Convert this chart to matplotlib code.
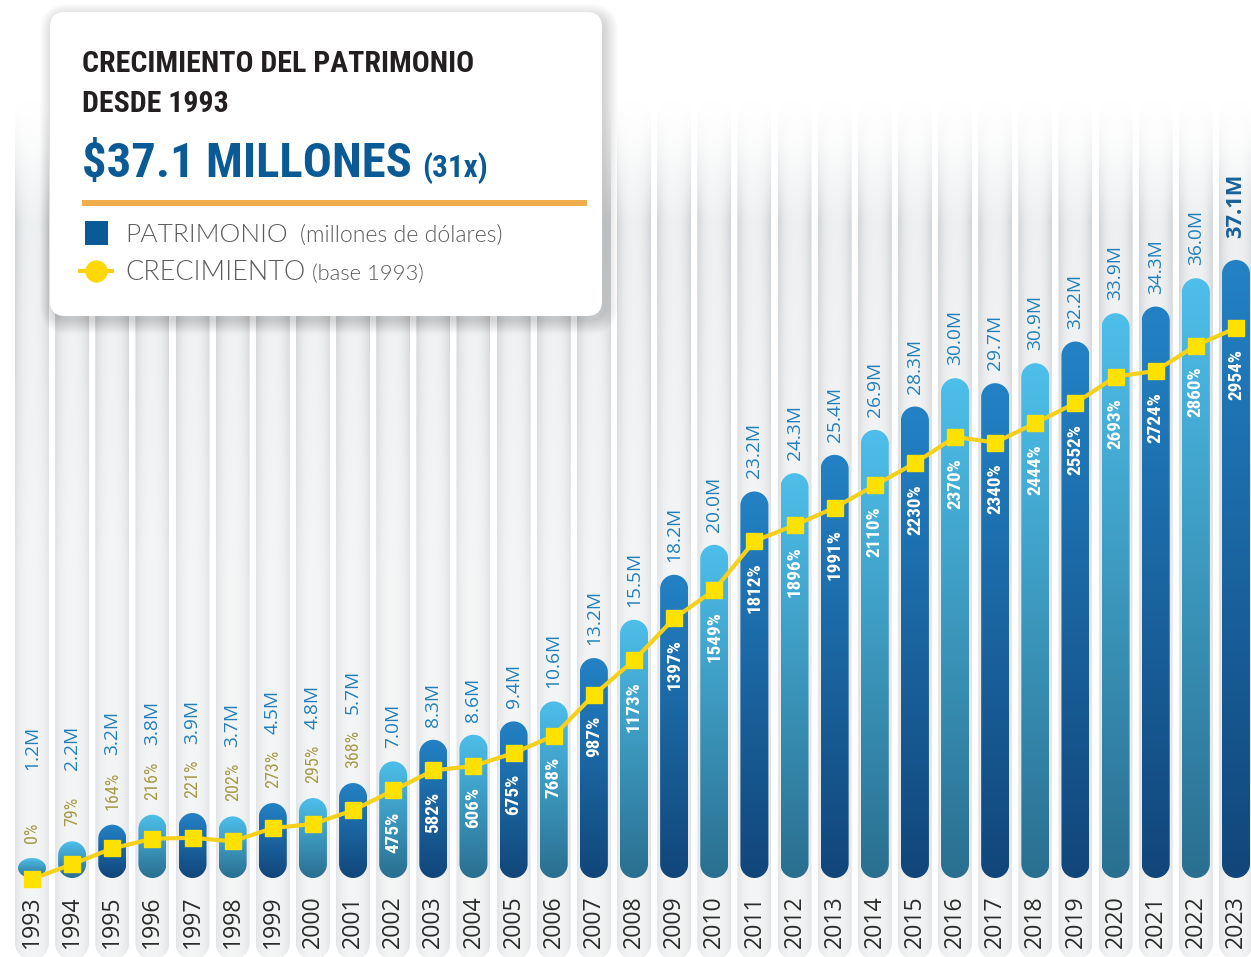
import os
import numpy as np
import matplotlib
matplotlib.use("Agg")
import matplotlib.pyplot as plt
from matplotlib.path import Path
from matplotlib.patches import PathPatch, FancyBboxPatch, Rectangle
from matplotlib.lines import Line2D
from matplotlib.colors import to_rgb
from matplotlib.font_manager import FontProperties, fontManager

# datos
years = [str(y) for y in range(1993, 2024)]
patrimonio = [1.2, 2.2, 3.2, 3.8, 3.9, 3.7, 4.5, 4.8, 5.7, 7.0, 8.3, 8.6, 9.4, 10.6,
              13.2, 15.5, 18.2, 20.0, 23.2, 24.3, 25.4, 26.9, 28.3, 30.0, 29.7,
              30.9, 32.2, 33.9, 34.3, 36.0, 37.1]
crecimiento = [0, 79, 164, 216, 221, 202, 273, 295, 368, 475, 582, 606, 675, 768,
               987, 1173, 1397, 1549, 1812, 1896, 1991, 2110, 2230, 2370, 2340,
               2444, 2552, 2693, 2724, 2860, 2954]
val_labels = [f"{v:.1f}M" for v in patrimonio]
pct_labels = [f"{p}%" for p in crecimiento]

W, H = 1251, 957
PX_X = 40.133      # px por unidad de x
X0 = 32            # px del primer año
PX_M = 16.66       # px por millón
Y0 = 878           # px (desde arriba) de la base de las barras
PX_P = 0.18653     # px por punto porcentual
P0 = 879           # px del 0%


def find_font(patterns, family, weight):
    files = sorted(f.fname for f in fontManager.ttflist)
    for p in patterns:
        for f in files:
            if os.path.basename(f).lower().startswith(p.lower()):
                return FontProperties(fname=f)
    return FontProperties(family=family, weight=weight)


COND_B = find_font(["RobotoCondensed-Bold.", "OpenSans-CondBold", "OpenSansCondensed-Bold",
                    "LiberationSansNarrow-Bold.", "DejaVuSansCondensed-Bold."],
                   "DejaVu Sans", "bold")
COND_R = find_font(["RobotoCondensed-Regular", "OpenSans-CondLight", "OpenSansCondensed-Light",
                    "LiberationSansNarrow-Regular", "DejaVuSansCondensed."],
                   "DejaVu Sans", "normal")
SANS = FontProperties(family=["Open Sans", "DejaVu Sans"])
SANS_B = FontProperties(family=["Open Sans", "DejaVu Sans"], weight="bold")
LIGHT = find_font(["Lato-Light.", "Lato-Regular."], ["Lato", "DejaVu Sans"], "normal")

fig = plt.figure(figsize=(W / 100, H / 100), dpi=100)
fig.patch.set_facecolor("white")
renderer = fig.canvas.get_renderer()


def text_w(prop, s):
    w, _, _ = renderer.get_text_width_height_descent(s, prop, ismath=False)
    return w


def fp(prop, s, target):
    # tamaño para que el texto s mida target px de largo
    p = prop.copy()
    p.set_size(10)
    p.set_size(10 * target / text_w(p, s))
    return p


ax = fig.add_axes([0, 0, 1, 1])
ax.axis("off")


def pill(x0, x1, y0, y1, rx, ry):
    ry = min(ry, (y1 - y0) / 2)
    k = 0.5523
    v = [(x0 + rx, y0), (x1 - rx, y0),
         (x1 - rx + k * rx, y0), (x1, y0 + ry - k * ry), (x1, y0 + ry),
         (x1, y1 - ry),
         (x1, y1 - ry + k * ry), (x1 - rx + k * rx, y1), (x1 - rx, y1),
         (x0 + rx, y1),
         (x0 + rx - k * rx, y1), (x0, y1 - ry + k * ry), (x0, y1 - ry),
         (x0, y0 + ry),
         (x0, y0 + ry - k * ry), (x0 + rx - k * rx, y0), (x0 + rx, y0),
         (x0 + rx, y0)]
    c = ([Path.MOVETO, Path.LINETO] + [Path.CURVE4] * 3 + [Path.LINETO] +
         [Path.CURVE4] * 3 + [Path.LINETO] + [Path.CURVE4] * 3 + [Path.LINETO] +
         [Path.CURVE4] * 3 + [Path.CLOSEPOLY])
    return Path(v, c)


n = len(years)
xs = np.arange(n)

# columnas grises de fondo
col_hw = 17 / PX_X
col_top = (Y0 - 100) / PX_M
col_bot = (Y0 - 960) / PX_M
ny, nx = 300, 40
u = np.linspace(-1, 1, nx)
center = np.array(to_rgb("#eef0f1"))
edge = np.array(to_rgb("#d3d6d9"))
prof = center[None, :] - (center - edge)[None, :] * (np.abs(u) ** 2.5)[:, None]
ydat = np.linspace(col_top, col_bot, ny)
py = Y0 - ydat * PX_M
w = np.clip((py - 100) / 120, 0, 1) ** 1.4
light = 0.35 * np.clip((py - 230) / 350, 0, 1)
img = prof[None, :, :] * w[:, None, None] + (1 - w[:, None, None])
img = img * (1 - light[:, None, None]) + light[:, None, None]
for x in xs:
    p = PathPatch(pill(x - col_hw, x + col_hw, col_bot, col_top, col_hw, 17 / PX_M),
                  facecolor="none", edgecolor="none", transform=ax.transData)
    im = ax.imshow(img, extent=[x - col_hw, x + col_hw, col_bot, col_top],
                   aspect="auto", interpolation="bilinear", zorder=1)
    im.set_clip_path(p)

# barras con degradado
bar_hw = 14 / PX_X
dark = (to_rgb("#2382c5"), to_rgb("#11467a"))
light_c = (to_rgb("#4dbfea"), to_rgb("#2a6f90"))
for i, (x, v) in enumerate(zip(xs, patrimonio)):
    top, bot = dark if (i % 2 == 0 and i > 0) else light_c
    t = np.linspace(0, 1, 128)[:, None, None]
    grad = np.array(top)[None, None, :] * (1 - t) + np.array(bot)[None, None, :] * t
    p = PathPatch(pill(x - bar_hw, x + bar_hw, 0, v, bar_hw, 14 / PX_M),
                  facecolor="none", edgecolor="none", transform=ax.transData)
    im = ax.imshow(grad, extent=[x - bar_hw, x + bar_hw, 0, v], aspect="auto",
                   interpolation="bilinear", zorder=2)
    im.set_clip_path(p)

ax.set_xlim(-X0 / PX_X, (W - X0) / PX_X)
ax.set_ylim(-(H - Y0) / PX_M, Y0 / PX_M)

# años
year_fp = fp(SANS, "2006", 53)
for x, yr in zip(xs, years):
    ax.text(x, (Y0 - 922) / PX_M, yr, rotation=90, ha="center", va="center",
            fontproperties=year_fp, color="#2b2b2b", zorder=4)

# línea de crecimiento
ax2 = ax.twinx()
ax2.axis("off")
ax2.plot(xs, crecimiento, color="#f6d01a", lw=3, marker="s", ms=11,
         mfc="#ffe100", mec="#ffe100", zorder=5)
ax2.set_ylim(-(H - P0) / PX_P, P0 / PX_P)
ax2.set_xlim(ax.get_xlim())

pin_fp = fp(COND_B, "1812%", 51)
pout_fp = fp(COND_R, "164%", 38)
val_fp = fp(SANS, "13.2M", 55)
last_fp = fp(SANS_B, "37.1M", 64)

n_out = 9   # porcentajes fuera de la barra (1993-2001)
out_texts = []
for i in range(n):
    if i < n_out:
        t = ax.annotate(pct_labels[i], (xs[i], patrimonio[i]), xytext=(0, 15),
                        textcoords="offset pixels", rotation=90, ha="center",
                        va="bottom", fontproperties=pout_fp, color="#a59b48",
                        zorder=4)
        out_texts.append(t)
    else:
        ax2.annotate(pct_labels[i], (xs[i], crecimiento[i]), xytext=(0, -21),
                     textcoords="offset pixels", rotation=90, ha="center",
                     va="top", fontproperties=pin_fp, color="white", zorder=6)

fig.canvas.draw()
inv = ax.transData.inverted()
for i in range(n):
    if i < n_out:
        top_px = out_texts[i].get_window_extent(renderer).y1
        y = inv.transform((0, top_px + 16))[1]
        y = max(y, (Y0 - 770) / PX_M)
        ax.text(xs[i], y, val_labels[i], rotation=90, ha="center", va="bottom",
                fontproperties=val_fp, color="#2280bd", zorder=4)
    elif i == n - 1:
        ax.annotate(val_labels[i], (xs[i], patrimonio[i]), xytext=(0, 22),
                    textcoords="offset pixels", rotation=90, ha="center",
                    va="bottom", fontproperties=last_fp, color="#17629c",
                    zorder=4)
    else:
        ax.annotate(val_labels[i], (xs[i], patrimonio[i]), xytext=(0, 13),
                    textcoords="offset pixels", rotation=90, ha="center",
                    va="bottom", fontproperties=val_fp, color="#2280bd",
                    zorder=4)

# recuadro de título y leyenda (coordenadas en píxeles)
ax3 = fig.add_axes([0, 0, 1, 1], zorder=10)
ax3.axis("off")
for k in range(14):
    ax3.add_patch(FancyBboxPatch((50 + 3, 12 + 5), 552, 304,
                                 boxstyle=f"round,pad={k},rounding_size={15 + k}",
                                 facecolor="#000000", edgecolor="none",
                                 alpha=0.012))
ax3.add_patch(FancyBboxPatch((50, 12), 552, 304, boxstyle="round,pad=0,rounding_size=15",
                             facecolor="white", edgecolor="none"))

title_fp = fp(COND_B, "CRECIMIENTO DEL PATRIMONIO", 390)
ax3.text(82, 72, "CRECIMIENTO DEL PATRIMONIO", fontproperties=title_fp,
         color="#231f20", va="baseline", ha="left")
ax3.text(82, 112, "DESDE 1993", fontproperties=title_fp,
         color="#231f20", va="baseline", ha="left")
big_fp = fp(COND_B, "$37.1 MILLONES", 330)
ax3.text(82, 177, "$37.1 MILLONES", fontproperties=big_fp,
         color="#0a5b95", va="baseline", ha="left")
ax3.text(82 + 330 + 10, 177, "(31x)", fontproperties=fp(COND_B, "(31x)", 66),
         color="#0a5b95", va="baseline", ha="left")
ax3.add_patch(Rectangle((82, 200), 505, 6, facecolor="#f0ad4b", edgecolor="none"))

ax3.add_patch(Rectangle((85, 221), 23, 24, facecolor="#0a5b95", edgecolor="none"))
ax3.text(125, 242, "PATRIMONIO", fontproperties=fp(LIGHT, "PATRIMONIO", 163),
         color="#5a5b5d", va="baseline", ha="left")
ax3.text(300, 242, "(millones de dólares)",
         fontproperties=fp(LIGHT, "(millones de dólares)", 203),
         color="#5a5b5d", va="baseline", ha="left")
ax3.add_line(Line2D([80, 112], [271, 271], color="#f6d01a", lw=3))
ax3.plot([96], [271], marker="o", ms=15, mfc="#ffd800", mec="#ffd800")
ax3.text(125, 280, "CRECIMIENTO", fontproperties=fp(LIGHT, "CRECIMIENTO", 180),
         color="#5a5b5d", va="baseline", ha="left")
ax3.text(312, 280, "(base 1993)", fontproperties=fp(LIGHT, "(base 1993)", 112),
         color="#5a5b5d", va="baseline", ha="left")
ax3.set_xlim(0, W)
ax3.set_ylim(H, 0)

fig.savefig("out.png", dpi=100)
